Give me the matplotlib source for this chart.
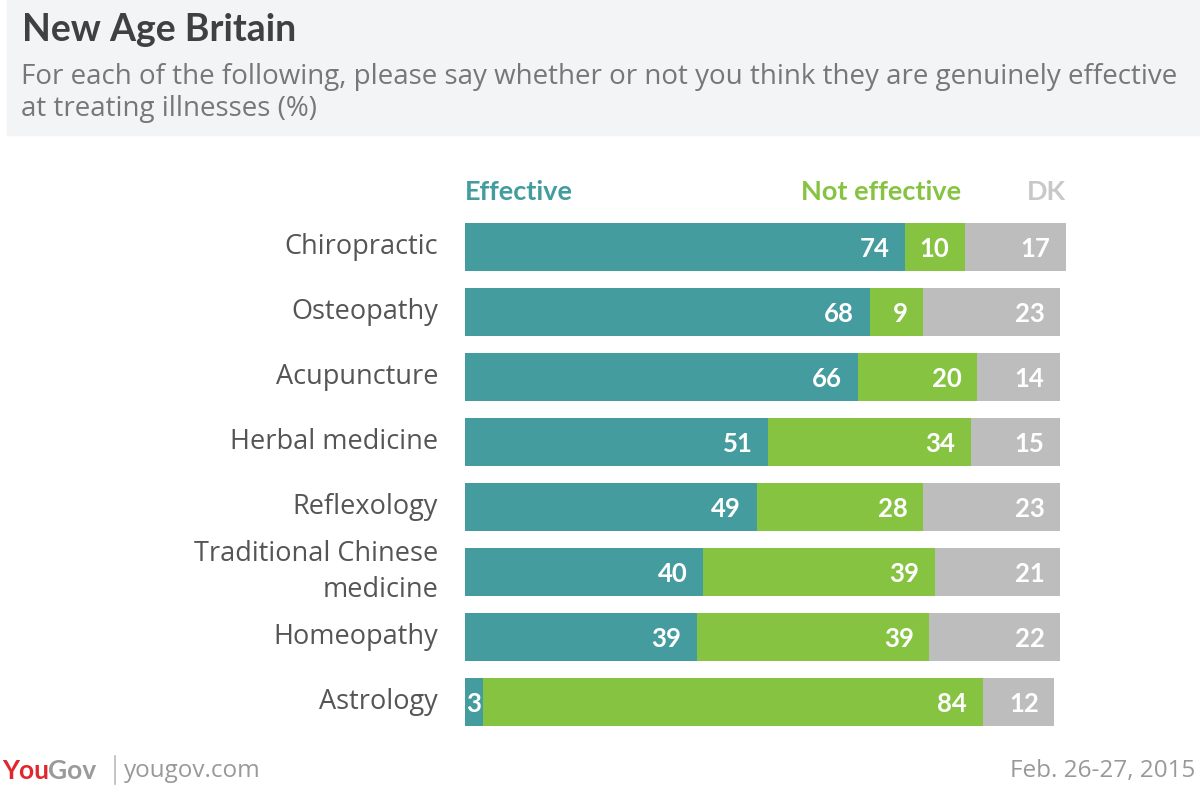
import matplotlib.pyplot as plt
from matplotlib.patches import Rectangle

categories = ['Chiropractic', 'Osteopathy', 'Acupuncture', 'Herbal medicine',
              'Reflexology', 'Traditional Chinese\nmedicine', 'Homeopathy', 'Astrology']
effective = [74, 68, 66, 51, 49, 40, 39, 3]
not_effective = [10, 9, 20, 34, 28, 39, 39, 84]
dk = [17, 23, 14, 15, 23, 21, 22, 12]

TEAL = '#459c9e'
GREEN = '#86c341'
GREY = '#bdbdbd'

plt.rcParams['font.family'] = ['Lato', 'DejaVu Sans']
LIGHT = ['Open Sans', 'DejaVu Sans']

fig = plt.figure(figsize=(12, 7.87), dpi=100)

# header band
fig.patches.append(Rectangle((0.006, 1 - 135 / 787), 0.994, 135 / 787,
                             transform=fig.transFigure, color='#f3f4f5', zorder=0))
fig.text(22 / 1200, 1 - 30 / 787, 'New Age Britain', fontsize=27, fontweight='bold',
         color='#404040', va='center', ha='left')
fig.text(21 / 1200, 1 - 77 / 787,
         'For each of the following, please say whether or not you think they are genuinely effective',
         fontsize=20, color='#777777', va='center', ha='left', family=LIGHT)
fig.text(21 / 1200, 1 - 109 / 787, 'at treating illnesses (%)',
         fontsize=20, color='#777777', va='center', ha='left', family=LIGHT)

ax = fig.add_axes([465 / 1200, 52.5 / 787, 601 / 1200, 520 / 787])
n = len(categories)
y = list(range(n))
h = 0.74
left2 = [e for e in effective]
left3 = [e + ne for e, ne in zip(effective, not_effective)]
ax.barh(y, effective, height=h, color=TEAL)
ax.barh(y, not_effective, left=left2, height=h, color=GREEN)
ax.barh(y, dk, left=left3, height=h, color=GREY)
ax.set_xlim(0, 101)
ax.set_ylim(n - 0.5, -0.5)
ax.axis('off')

pad = 2.6
for i in range(n):
    segs = [(0, effective[i]), (left2[i], not_effective[i]), (left3[i], dk[i])]
    for start, val in segs:
        if val < 5:
            ax.text(start + val / 2, i + 0.03, str(val), ha='center', va='center',
                    color='white', fontsize=18.5, fontweight='bold')
        else:
            ax.text(start + val - pad, i + 0.03, str(val), ha='right', va='center',
                    color='white', fontsize=18.5, fontweight='bold')
    ax.text(-4.5, i, categories[i], ha='right', va='center', color='#555555',
            fontsize=19.5, linespacing=1.4, family=LIGHT)

# legend labels
ax.text(0, -0.85, 'Effective', ha='left', va='center', color=TEAL,
        fontsize=19.5, fontweight='bold')
ax.text(83.3, -0.85, 'Not effective', ha='right', va='center', color=GREEN,
        fontsize=19.5, fontweight='bold')
ax.text(101, -0.85, 'DK', ha='right', va='center', color='#c8c8c8',
        fontsize=19.5, fontweight='bold')

# footer
fig.text(2 / 1200, 1 - 771 / 787, 'You', color='#e1262d', fontsize=19,
         fontweight='bold', va='center', ha='left')
fig.text(48 / 1200, 1 - 771 / 787, 'Gov', color='#9a9a9a', fontsize=19,
         fontweight='bold', va='center', ha='left')
fig.add_artist(plt.Line2D([115 / 1200, 115 / 1200], [1 - 756 / 787, 1 - 784 / 787],
                          color='#bbbbbb', lw=1.2))
fig.text(124 / 1200, 1 - 771 / 787, 'yougov.com', color='#999999', fontsize=17.5,
         va='center', ha='left', family=LIGHT)
fig.text(1195 / 1200, 1 - 771 / 787, 'Feb. 26-27, 2015', color='#999999', fontsize=17.5,
         va='center', ha='right', family=LIGHT)

fig.savefig('out.png', dpi=100)
